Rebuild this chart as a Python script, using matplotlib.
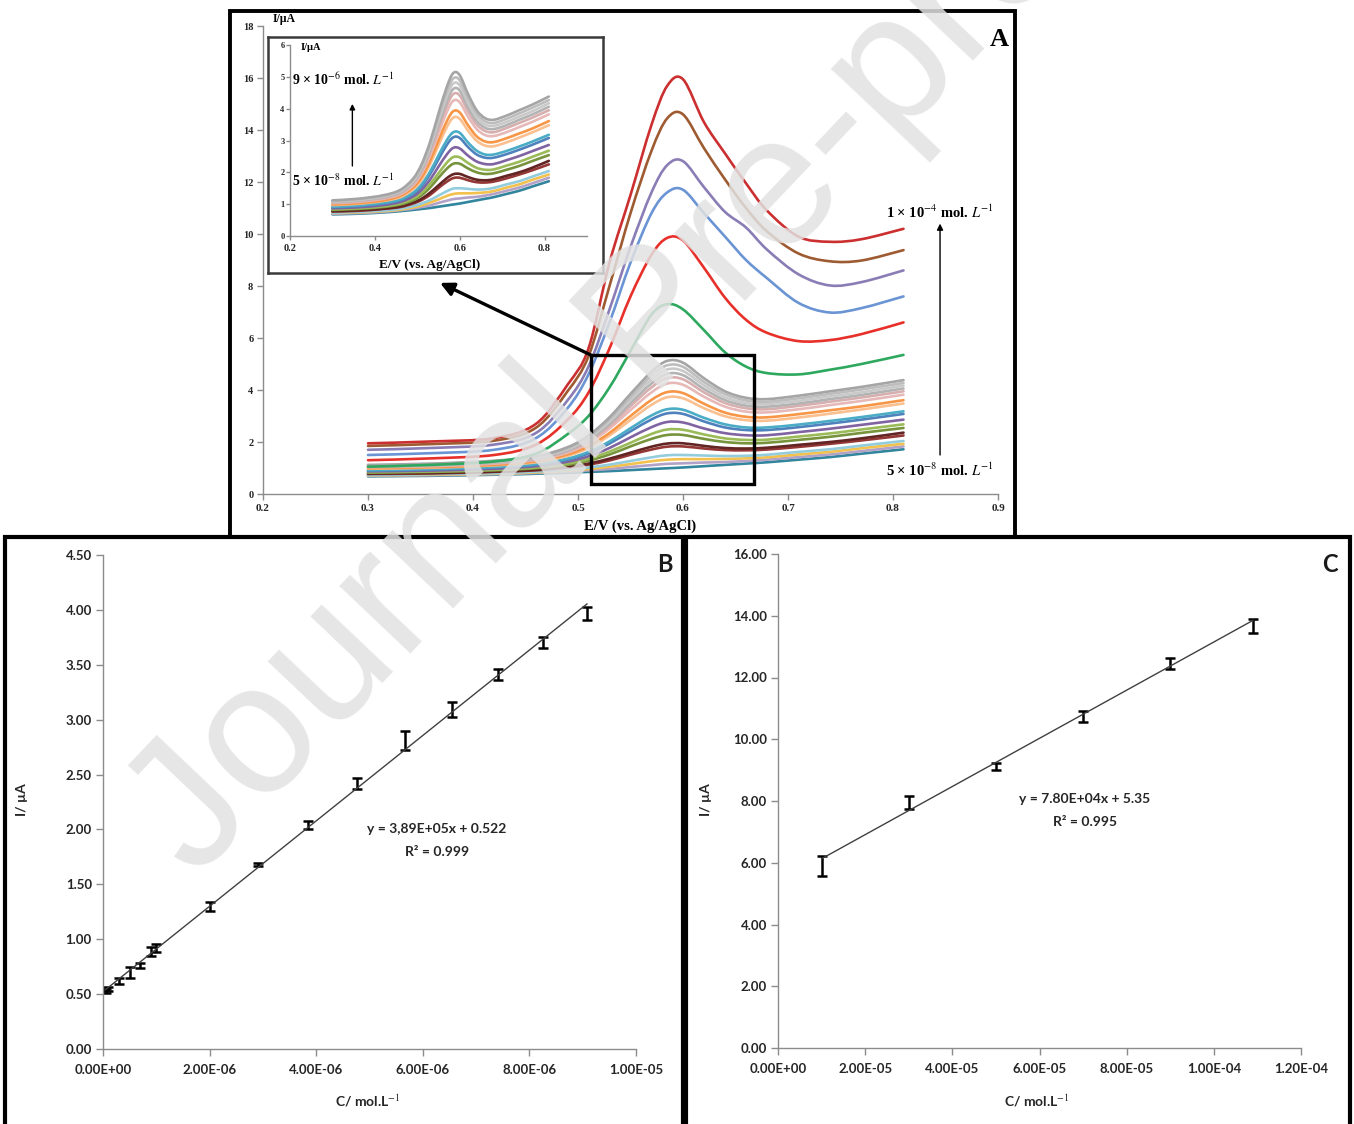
import matplotlib
matplotlib.use('Agg')
import matplotlib.pyplot as plt
from matplotlib.patches import Rectangle, PathPatch
from matplotlib.path import Path

plt.rcParams['mathtext.fontset'] = 'stix'

W, H = 1354, 1124

# ---------------- Panel A data (DPV curves, I / uA vs E / V) ----------------
E_grid = [0.30, 0.36, 0.42, 0.46, 0.49, 0.51, 0.53, 0.55, 0.57, 0.585, 0.60,
          0.62, 0.64, 0.66, 0.68, 0.71, 0.74, 0.77, 0.81]

# high-concentration curves (top to bottom)
curve_h1 = [1.95, 2.02, 2.15, 2.70, 4.20, 5.60, 8.90, 11.5, 14.2, 15.7, 15.95, 14.3, 13.1, 11.95, 10.9, 9.90, 9.70, 9.80, 10.2]
curve_h2 = [1.85, 1.92, 2.05, 2.55, 3.95, 5.30, 8.00, 10.8, 13.2, 14.45, 14.6, 13.3, 12.1, 11.0, 10.1, 9.25, 8.95, 8.98, 9.38]
curve_h3 = [1.70, 1.77, 1.90, 2.35, 3.60, 4.90, 7.10, 9.50, 11.6, 12.65, 12.8, 11.8, 10.85, 10.25, 9.40, 8.45, 8.02, 8.15, 8.60]
curve_h4 = [1.50, 1.57, 1.70, 2.15, 3.30, 4.60, 6.60, 8.90, 10.8, 11.6, 11.7, 10.8, 9.90, 9.00, 8.30, 7.35, 6.98, 7.15, 7.60]
curve_h5 = [1.30, 1.37, 1.50, 1.90, 2.85, 3.90, 5.60, 7.60, 9.20, 9.85, 9.75, 8.70, 7.55, 6.70, 6.20, 5.88, 5.92, 6.15, 6.60]
curve_h6 = [1.05, 1.12, 1.25, 1.55, 2.30, 3.00, 4.10, 5.50, 6.90, 7.30, 7.10, 6.30, 5.45, 4.90, 4.65, 4.60, 4.78, 5.00, 5.35]

# low-concentration curves (9e-6 ... 5e-8 mol/L), top to bottom
curve_l01 = [1.12, 1.17, 1.28, 1.45, 1.80, 2.25, 2.95, 3.85, 4.70, 5.12, 5.05, 4.45, 3.95, 3.70, 3.65, 3.78, 3.95, 4.12, 4.38]
curve_l02 = [1.10, 1.15, 1.26, 1.42, 1.76, 2.19, 2.87, 3.73, 4.55, 4.95, 4.89, 4.31, 3.84, 3.60, 3.55, 3.68, 3.85, 4.02, 4.27]
curve_l03 = [1.08, 1.13, 1.24, 1.40, 1.72, 2.14, 2.78, 3.62, 4.40, 4.79, 4.73, 4.18, 3.72, 3.50, 3.46, 3.58, 3.75, 3.91, 4.17]
curve_l04 = [1.07, 1.11, 1.22, 1.37, 1.68, 2.08, 2.70, 3.50, 4.25, 4.62, 4.57, 4.04, 3.61, 3.40, 3.36, 3.48, 3.65, 3.81, 4.06]
curve_l05 = [1.05, 1.09, 1.19, 1.34, 1.64, 2.03, 2.62, 3.38, 4.10, 4.46, 4.41, 3.91, 3.50, 3.30, 3.26, 3.39, 3.55, 3.71, 3.95]
curve_l06 = [1.03, 1.07, 1.17, 1.31, 1.59, 1.96, 2.52, 3.23, 3.91, 4.25, 4.20, 3.74, 3.36, 3.17, 3.14, 3.26, 3.42, 3.58, 3.82]
curve_l07 = [0.99, 1.03, 1.12, 1.26, 1.52, 1.84, 2.35, 3.00, 3.62, 3.92, 3.88, 3.47, 3.13, 2.97, 2.95, 3.07, 3.22, 3.37, 3.61]
curve_l08 = [0.97, 1.01, 1.10, 1.22, 1.47, 1.77, 2.25, 2.85, 3.43, 3.72, 3.68, 3.30, 2.99, 2.84, 2.82, 2.94, 3.09, 3.25, 3.48]
curve_l09 = [0.92, 0.96, 1.04, 1.15, 1.36, 1.62, 2.02, 2.53, 3.02, 3.26, 3.24, 2.93, 2.68, 2.56, 2.56, 2.67, 2.81, 2.96, 3.18]
curve_l10 = [0.90, 0.94, 1.02, 1.12, 1.32, 1.56, 1.94, 2.41, 2.87, 3.10, 3.08, 2.79, 2.56, 2.46, 2.46, 2.57, 2.71, 2.86, 3.08]
curve_l11 = [0.87, 0.90, 0.97, 1.07, 1.24, 1.45, 1.77, 2.18, 2.57, 2.77, 2.75, 2.52, 2.34, 2.26, 2.26, 2.38, 2.51, 2.66, 2.86]
curve_l12 = [0.84, 0.87, 0.93, 1.02, 1.17, 1.35, 1.63, 1.97, 2.31, 2.48, 2.47, 2.29, 2.14, 2.08, 2.09, 2.21, 2.33, 2.48, 2.68]
curve_l13 = [0.82, 0.85, 0.91, 0.99, 1.12, 1.28, 1.52, 1.83, 2.12, 2.27, 2.27, 2.12, 2.00, 1.95, 1.97, 2.08, 2.20, 2.35, 2.54]
curve_l14 = [0.78, 0.81, 0.86, 0.93, 1.05, 1.17, 1.36, 1.59, 1.82, 1.94, 1.95, 1.85, 1.77, 1.75, 1.78, 1.89, 2.00, 2.14, 2.36]
curve_l15 = [0.77, 0.79, 0.85, 0.91, 1.02, 1.13, 1.29, 1.51, 1.71, 1.82, 1.83, 1.75, 1.69, 1.68, 1.71, 1.81, 1.93, 2.06, 2.25]
curve_l16 = [0.73, 0.76, 0.80, 0.86, 0.94, 1.02, 1.13, 1.27, 1.41, 1.49, 1.50, 1.48, 1.46, 1.47, 1.51, 1.62, 1.72, 1.86, 2.04]
curve_l17 = [0.72, 0.74, 0.78, 0.83, 0.90, 0.96, 1.05, 1.15, 1.26, 1.32, 1.34, 1.34, 1.35, 1.37, 1.41, 1.52, 1.62, 1.76, 1.93]
curve_l18 = [0.70, 0.72, 0.76, 0.81, 0.86, 0.91, 0.96, 1.04, 1.11, 1.16, 1.18, 1.21, 1.23, 1.27, 1.32, 1.42, 1.52, 1.65, 1.83]
curve_l19 = [0.68, 0.70, 0.74, 0.78, 0.82, 0.85, 0.88, 0.92, 0.96, 0.99, 1.02, 1.07, 1.12, 1.17, 1.22, 1.32, 1.42, 1.55, 1.72]

high_curves = [curve_h1, curve_h2, curve_h3, curve_h4, curve_h5, curve_h6]
high_colors = ['#CC2F2F', '#9E5B32', '#8A7DB5', '#6A94D4', '#E8302A', '#2DA85E']
low_curves = [curve_l01, curve_l02, curve_l03, curve_l04, curve_l05, curve_l06, curve_l07,
              curve_l08, curve_l09, curve_l10, curve_l11, curve_l12, curve_l13, curve_l14,
              curve_l15, curve_l16, curve_l17, curve_l18, curve_l19]
low_colors = ['#A5A5A5', '#BDBDBD', '#C9C9C9', '#B3B3B3', '#D8AFAF', '#E6B9B8', '#F79646',
              '#FAC08F', '#4BACC6', '#4F81BD', '#8064A2', '#9BBB59', '#77933C', '#632523',
              '#953735', '#93CDDD', '#F2C14E', '#B3A2C7', '#31859C']

A_xticks = [0.2, 0.3, 0.4, 0.5, 0.6, 0.7, 0.8, 0.9]
A_yticks = [0, 2, 4, 6, 8, 10, 12, 14, 16, 18]
inset_xticks = [0.2, 0.4, 0.6, 0.8]
inset_yticks = [0, 1, 2, 3, 4, 5, 6]

# ---------------- Panel B data ----------------
B_conc = [0.05e-6, 0.1e-6, 0.3e-6, 0.5e-6, 0.7e-6, 0.9e-6, 1.0e-6, 2.0e-6, 2.9e-6,
          3.85e-6, 4.76e-6, 5.66e-6, 6.54e-6, 7.41e-6, 8.25e-6, 9.08e-6]
B_current = [0.53, 0.545, 0.62, 0.70, 0.76, 0.89, 0.92, 1.30, 1.68, 2.04, 2.42, 2.81,
             3.09, 3.41, 3.70, 3.97]
B_err = [0.02, 0.02, 0.03, 0.05, 0.02, 0.04, 0.04, 0.04, 0.01, 0.04, 0.05, 0.09, 0.07,
         0.05, 0.05, 0.06]
B_slope, B_intercept = 3.89e5, 0.522
B_xticks = [0, 2e-6, 4e-6, 6e-6, 8e-6, 1e-5]
B_xticklabels = ['0.00E+00', '2.00E-06', '4.00E-06', '6.00E-06', '8.00E-06', '1.00E-05']
B_yticks = [0, 0.5, 1.0, 1.5, 2.0, 2.5, 3.0, 3.5, 4.0, 4.5]

# ---------------- Panel C data ----------------
C_conc = [1e-5, 3e-5, 5e-5, 7e-5, 9e-5, 1.09e-4]
C_current = [5.89, 7.95, 9.12, 10.73, 12.45, 13.67]
C_err = [0.32, 0.20, 0.10, 0.17, 0.18, 0.22]
C_slope, C_intercept = 7.80e4, 5.35
C_xticks = [0, 2e-5, 4e-5, 6e-5, 8e-5, 1e-4, 1.2e-4]
C_xticklabels = ['0.00E+00', '2.00E-05', '4.00E-05', '6.00E-05', '8.00E-05', '1.00E-04', '1.20E-04']
C_yticks = [0, 2, 4, 6, 8, 10, 12, 14, 16]

# ---------------- helpers ----------------
fig = plt.figure(figsize=(W / 100, H / 100), dpi=100)


def px_axes(l, t, r, b, **kw):
    return fig.add_axes([l / W, 1 - b / H, (r - l) / W, (b - t) / H], **kw)


def ftext(x, y, s, **kw):
    return fig.text(x / W, 1 - y / H, s, **kw)


def frame(l, t, r, b, lw=2.6, color='black'):
    rect = Rectangle((l / W, 1 - b / H), (r - l) / W, (b - t) / H, transform=fig.transFigure,
                     fill=False, lw=lw, edgecolor=color, zorder=15, clip_on=False)
    fig.patches.append(rect)


def smooth_line(ax, xs, ys, color, lw):
    """Excel-style smoothed line through the data points (Bezier segments)."""
    pts = list(zip(xs, ys))
    n = len(pts)
    verts = [pts[0]]
    codes = [Path.MOVETO]
    for i in range(n - 1):
        p0 = pts[i - 1] if i > 0 else pts[i]
        p1 = pts[i]
        p2 = pts[i + 1]
        p3 = pts[i + 2] if i + 2 < n else pts[i + 1]
        c1 = (p1[0] + (p2[0] - p0[0]) / 6, p1[1] + (p2[1] - p0[1]) / 6)
        c2 = (p2[0] - (p3[0] - p1[0]) / 6, p2[1] - (p3[1] - p1[1]) / 6)
        verts += [c1, c2, p2]
        codes += [Path.CURVE4] * 3
    ax.add_patch(PathPatch(Path(verts, codes), fill=False, edgecolor=color, lw=lw,
                           capstyle='round', joinstyle='round'))


SERIF = dict(family='Liberation Serif', weight='bold')
SANS = dict(family='Lato', weight='bold')
AX_GREY = '#8C8C8C'


def style_axes(ax, fontkw, size, tlen=4):
    for s in ['top', 'right']:
        ax.spines[s].set_visible(False)
    for s in ['left', 'bottom']:
        ax.spines[s].set_color(AX_GREY)
        ax.spines[s].set_linewidth(1.0)
    ax.tick_params(direction='out', length=tlen, width=1.0, color=AX_GREY,
                   labelsize=size, labelcolor='#262626', pad=3)
    for lab in ax.get_xticklabels() + ax.get_yticklabels():
        lab.set_fontfamily(fontkw['family'])
        lab.set_fontweight(fontkw['weight'])


# ---------------- Panel A ----------------
axA = px_axes(263, 26, 998, 494)
axA.set_zorder(1)
for c, col in zip(low_curves[::-1], low_colors[::-1]):
    smooth_line(axA, E_grid, c, col, 1.9)
for c, col in zip(high_curves[::-1], high_colors[::-1]):
    smooth_line(axA, E_grid, c, col, 1.9)
axA.set_xlim(0.2, 0.9)
axA.set_ylim(0, 18)
axA.set_xticks(A_xticks)
axA.set_xticklabels(['%.1f' % v for v in A_xticks])
axA.set_yticks(A_yticks)
axA.set_yticklabels([str(v) for v in A_yticks])
style_axes(axA, SERIF, 7.5)
axA.tick_params(axis='x', labelsize=8)
axA.patch.set_alpha(0)

axA.add_patch(Rectangle((0.512, 0.4), 0.156, 4.95, fill=False, lw=2.4, edgecolor='black', zorder=5))
axA.annotate('', xy=(0.3686, 8.12), xytext=(0.512, 5.35), annotation_clip=False,
             arrowprops=dict(arrowstyle='-|>', lw=2.4, color='black', mutation_scale=20,
                             shrinkA=0, shrinkB=0))
axA.annotate('', xy=(0.8448, 10.4), xytext=(0.8448, 1.5), annotation_clip=False,
             arrowprops=dict(arrowstyle='-|>', lw=1.0, color='black', mutation_scale=9,
                             shrinkA=0, shrinkB=0))
ftext(940, 212, r'1 × 10$^{-4}$ mol. $L^{-1}$', ha='center', va='center', fontsize=10.5, **SERIF)
ftext(940, 470, r'5 × 10$^{-8}$ mol. $L^{-1}$', ha='center', va='center', fontsize=10.5, **SERIF)
ftext(273, 19, 'I/µA', ha='left', va='center', fontsize=8.5, **SERIF)
ftext(640, 526, 'E/V (vs. Ag/AgCl)', ha='center', va='center', fontsize=10.5, **SERIF)
ftext(999, 40, 'A', ha='center', va='center', fontsize=19, zorder=40, **SERIF)

# inset
bg = px_axes(268, 37, 603, 273)
bg.set_zorder(3)
bg.set_xticks([])
bg.set_yticks([])
for s in bg.spines.values():
    s.set_linewidth(1.8)
    s.set_color('#3A3A3A')
axI = px_axes(290, 45, 587, 236)
axI.set_zorder(4)
axI.patch.set_alpha(0)
for c, col in zip(low_curves[::-1], low_colors[::-1]):
    smooth_line(axI, E_grid, c, col, 1.9)
axI.set_xlim(0.2, 0.9)
axI.set_ylim(0, 6)
axI.set_xticks(inset_xticks)
axI.set_xticklabels(['%.1f' % v for v in inset_xticks])
axI.set_yticks(inset_yticks)
axI.set_yticklabels([str(v) for v in inset_yticks])
style_axes(axI, SERIF, 6, tlen=3)
axI.tick_params(axis='x', labelsize=7.5)
axI.tick_params(axis='y', pad=1)
axI.text(0.205, 1.75, r'5 × 10$^{-8}$ mol. $L^{-1}$', ha='left', va='center', fontsize=10, **SERIF)
axI.text(0.205, 4.9, r'9 × 10$^{-6}$ mol. $L^{-1}$', ha='left', va='center', fontsize=10, **SERIF)
axI.annotate('', xy=(0.347, 4.15), xytext=(0.347, 2.2),
             arrowprops=dict(arrowstyle='-|>', lw=1.0, color='black', mutation_scale=8,
                             shrinkA=0, shrinkB=0))
ftext(301, 48, 'I/µA', ha='left', va='center', fontsize=7.5, **SERIF)
ftext(430, 265, 'E/V (vs. Ag/AgCl)', ha='center', va='center', fontsize=9.5, **SERIF)

# ---------------- Panel B ----------------
axB = px_axes(103, 555, 636, 1049)
axB.errorbar(B_conc, B_current, yerr=B_err, fmt='none', ecolor='black', elinewidth=1.8,
             capsize=3.5, capthick=1.8)
bx = [min(B_conc), max(B_conc)]
axB.plot(bx, [B_slope * v + B_intercept for v in bx], color='#404040', lw=1.0)
axB.set_xlim(0, 1e-5)
axB.set_ylim(0, 4.5)
axB.set_xticks(B_xticks)
axB.set_xticklabels(B_xticklabels)
axB.set_yticks(B_yticks)
axB.set_yticklabels(['%.2f' % v for v in B_yticks])
style_axes(axB, SANS, 9.5, tlen=5)
axB.tick_params(axis='x', pad=6)
ftext(437, 829, 'y = 3,89E+05x + 0.522', ha='center', va='center', fontsize=10, color='#262626', **SANS)
ftext(437, 852, 'R² = 0.999', ha='center', va='center', fontsize=10, color='#262626', **SANS)
ftext(368, 1101, 'C/ mol.L$^{-1}$', ha='center', va='center', fontsize=10, color='#262626', **SANS)
ftext(22, 800, 'I/ µA', ha='center', va='center', rotation=90, fontsize=10, color='#262626', **SANS)
ftext(665, 565, 'B', ha='center', va='center', fontsize=17, color='#1A1A1A', **SANS)

# ---------------- Panel C ----------------
axC = px_axes(778, 554, 1301, 1048)
axC.errorbar(C_conc, C_current, yerr=C_err, fmt='none', ecolor='black', elinewidth=1.8,
             capsize=3.5, capthick=1.8)
cx = [min(C_conc), max(C_conc)]
axC.plot(cx, [C_slope * v + C_intercept for v in cx], color='#404040', lw=1.0)
axC.set_xlim(0, 1.2e-4)
axC.set_ylim(0, 16)
axC.set_xticks(C_xticks)
axC.set_xticklabels(C_xticklabels)
axC.set_yticks(C_yticks)
axC.set_yticklabels(['%.2f' % v for v in C_yticks])
style_axes(axC, SANS, 9.5, tlen=5)
axC.tick_params(axis='x', pad=6)
ftext(1085, 799, 'y = 7.80E+04x + 5.35', ha='center', va='center', fontsize=10, color='#262626', **SANS)
ftext(1085, 822, 'R² = 0.995', ha='center', va='center', fontsize=10, color='#262626', **SANS)
ftext(1037, 1101, 'C/ mol.L$^{-1}$', ha='center', va='center', fontsize=10, color='#262626', **SANS)
ftext(706, 800, 'I/ µA', ha='center', va='center', rotation=90, fontsize=10, color='#262626', **SANS)
ftext(1330, 565, 'C', ha='center', va='center', fontsize=17, color='#1A1A1A', **SANS)

# ---------------- frames ----------------
frame(230, 11, 1015, 537, lw=2.8)
frame(5, 537, 683, 1135, lw=3.0)
frame(686, 537, 1350, 1135, lw=3.0)

# ---------------- watermark ----------------
ftext(196, 880, 'Journal Pre-proof', rotation=46.5, rotation_mode='anchor', ha='left',
      va='baseline', fontsize=134, family='Liberation Sans', color='#E2E2E2', alpha=0.85,
      zorder=30)

fig.savefig('out.png', dpi=100)
